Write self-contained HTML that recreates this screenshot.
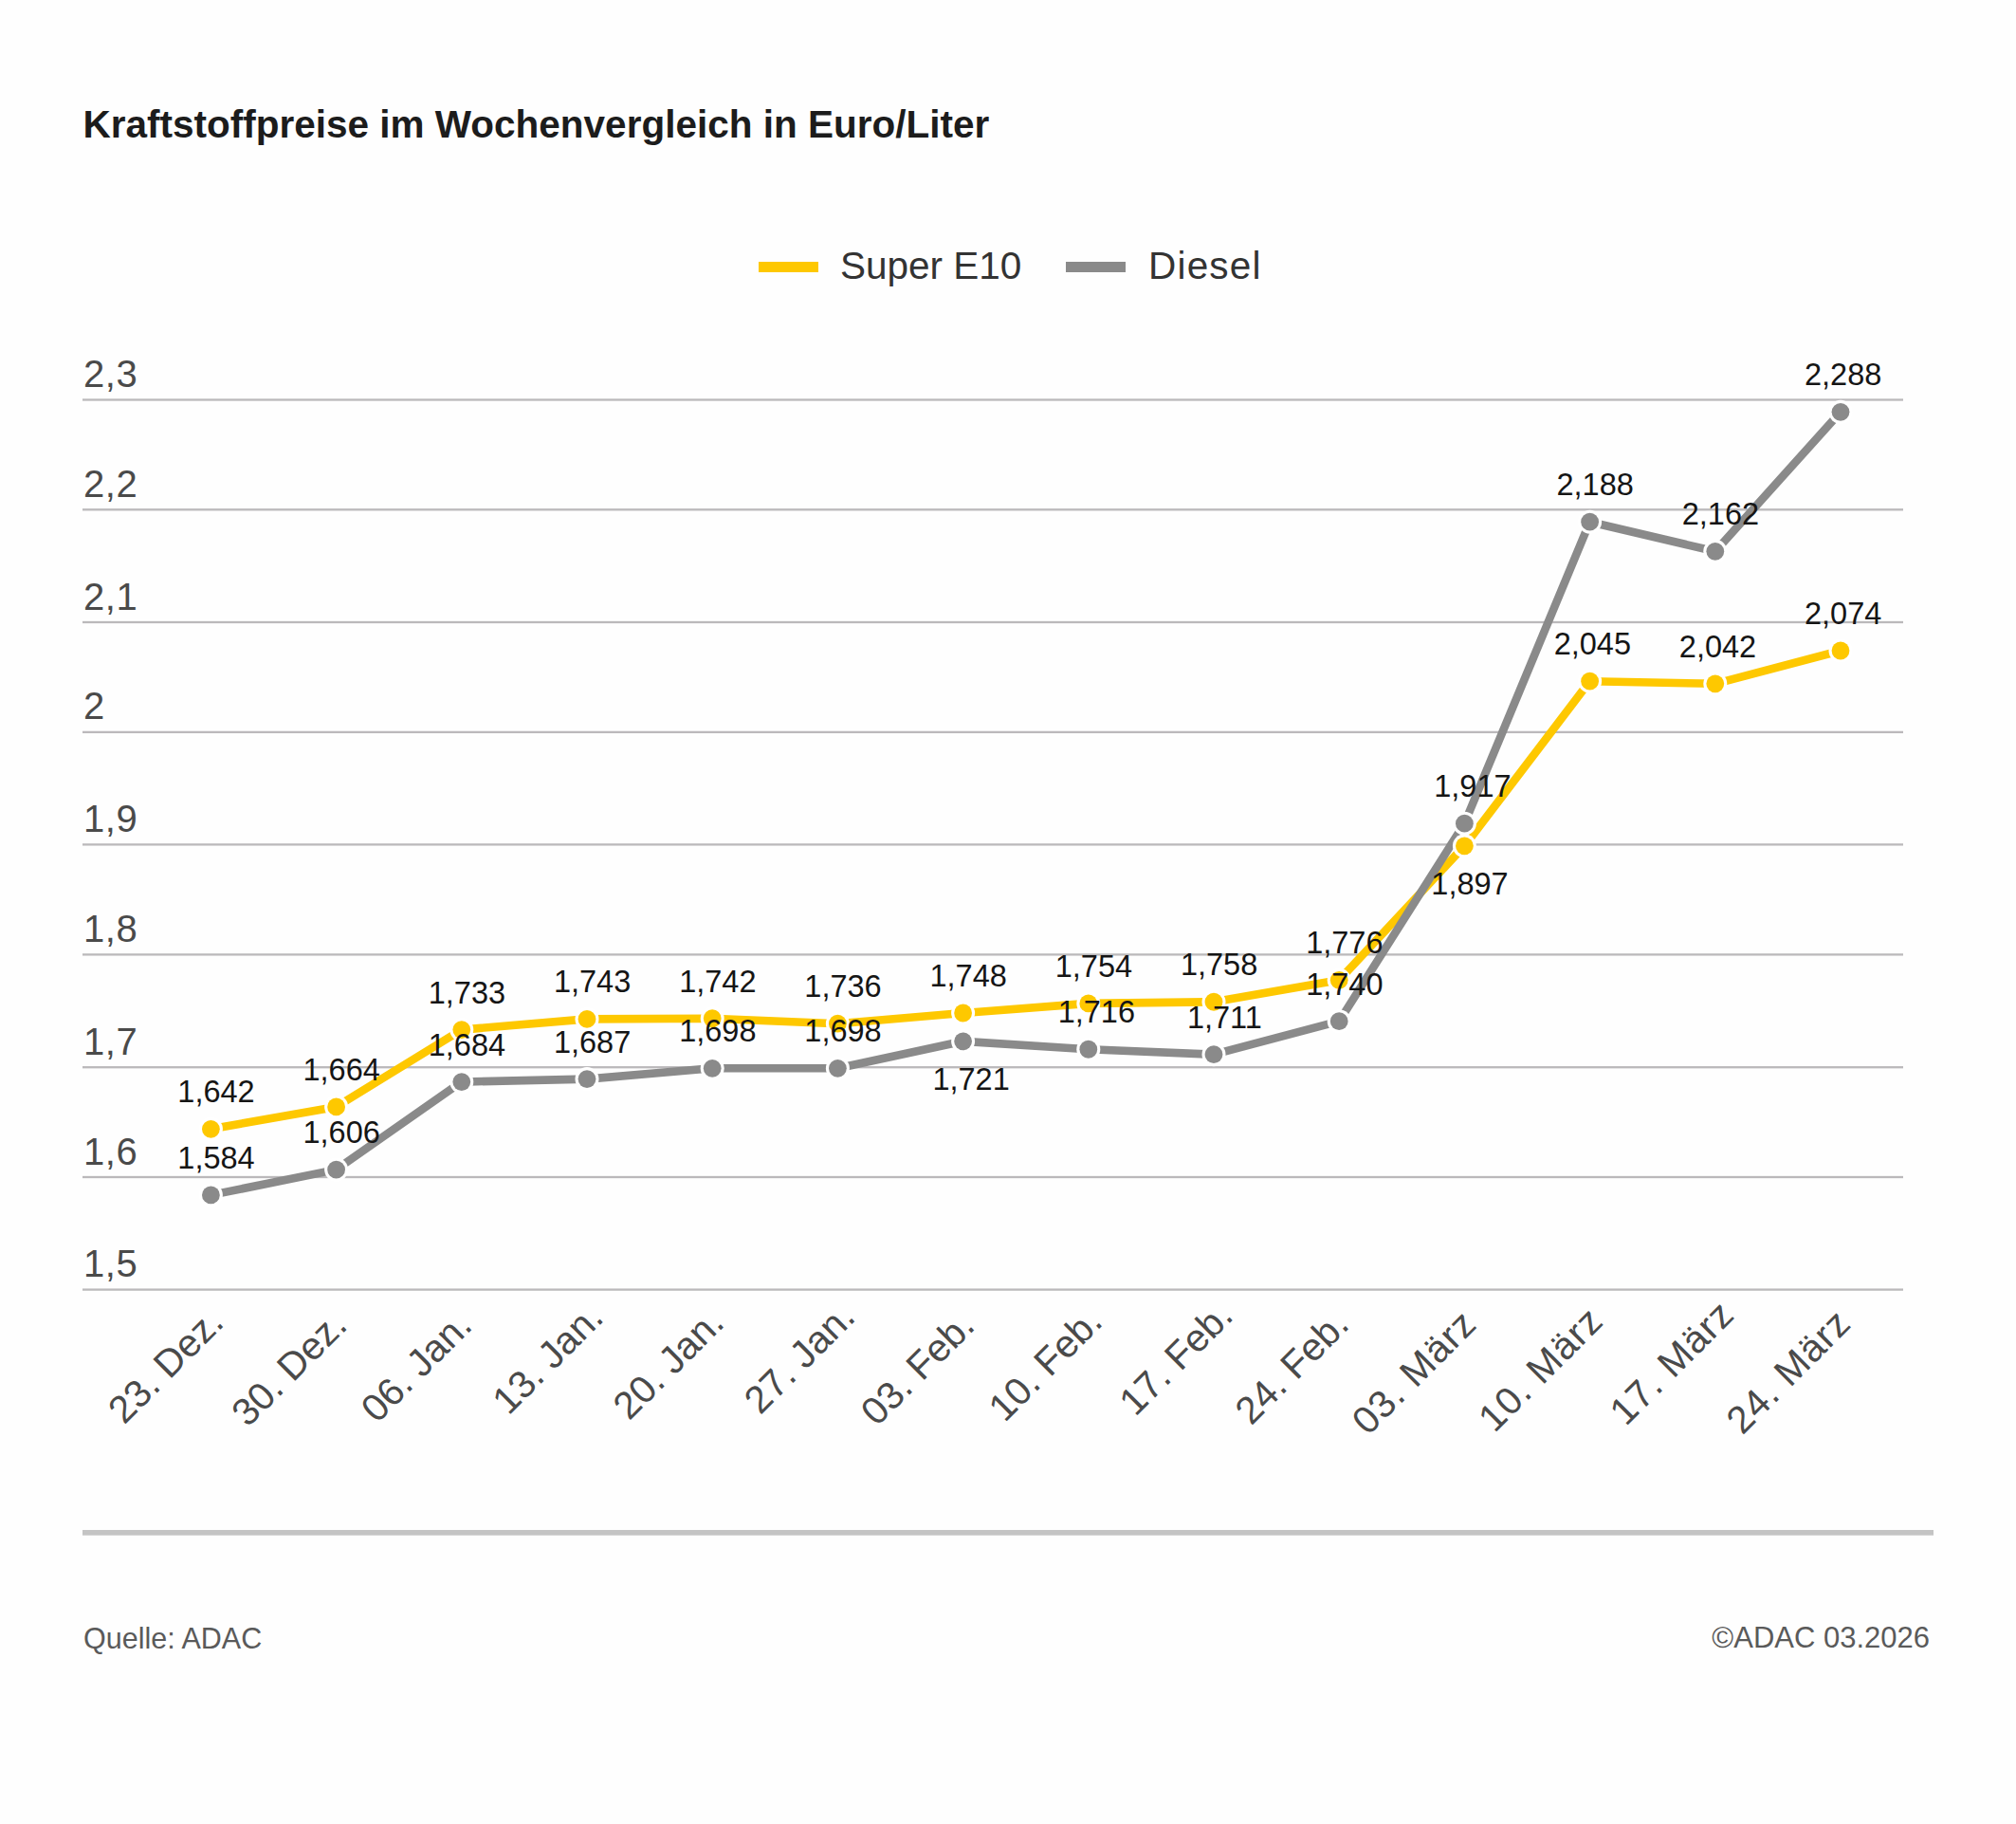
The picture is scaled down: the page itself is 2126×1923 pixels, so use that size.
<!DOCTYPE html>
<html><head><meta charset="utf-8"><style>html,body{margin:0;padding:0;background:#fefefe;}svg{display:block;}text{font-family:"Liberation Sans",sans-serif;}</style></head>
<body>
<svg width="2126" height="1923" viewBox="0 0 2126 1923">
<rect width="2126" height="1923" fill="#fefefe"/>
<text x="87.5" y="144.9" font-family="Liberation Sans" font-weight="bold" font-size="40.5" fill="#1c1c1c">Kraftstoffpreise im Wochenvergleich in Euro/Liter</text>
<rect x="800" y="276" width="63" height="11" fill="#fec800"/>
<text x="886" y="294.2" font-family="Liberation Sans" font-size="40.5" fill="#333333">Super E10</text>
<rect x="1124" y="276" width="63" height="11" fill="#8a8a8a"/>
<text x="1211" y="294.2" font-family="Liberation Sans" font-size="40.5" letter-spacing="1.2" fill="#333333">Diesel</text>
<rect x="87" y="420.35" width="1920" height="2.3" fill="#bbb9bb"/>
<text x="88.0" y="408.00" font-family="Liberation Sans" font-size="40" letter-spacing="0.6" fill="#4a4a4a">2,3</text>
<rect x="87" y="536.15" width="1920" height="2.3" fill="#bbb9bb"/>
<text x="88.0" y="523.80" font-family="Liberation Sans" font-size="40" letter-spacing="0.6" fill="#4a4a4a">2,2</text>
<rect x="87" y="654.85" width="1920" height="2.3" fill="#bbb9bb"/>
<text x="88.0" y="642.50" font-family="Liberation Sans" font-size="40" letter-spacing="0.6" fill="#4a4a4a">2,1</text>
<rect x="87" y="770.75" width="1920" height="2.3" fill="#bbb9bb"/>
<text x="88.0" y="758.40" font-family="Liberation Sans" font-size="40" letter-spacing="0.6" fill="#4a4a4a">2</text>
<rect x="87" y="889.25" width="1920" height="2.3" fill="#bbb9bb"/>
<text x="88.0" y="876.90" font-family="Liberation Sans" font-size="40" letter-spacing="0.6" fill="#4a4a4a">1,9</text>
<rect x="87" y="1005.25" width="1920" height="2.3" fill="#bbb9bb"/>
<text x="88.0" y="992.90" font-family="Liberation Sans" font-size="40" letter-spacing="0.6" fill="#4a4a4a">1,8</text>
<rect x="87" y="1124.05" width="1920" height="2.3" fill="#bbb9bb"/>
<text x="88.0" y="1111.70" font-family="Liberation Sans" font-size="40" letter-spacing="0.6" fill="#4a4a4a">1,7</text>
<rect x="87" y="1239.85" width="1920" height="2.3" fill="#bbb9bb"/>
<text x="88.0" y="1227.50" font-family="Liberation Sans" font-size="40" letter-spacing="0.6" fill="#4a4a4a">1,6</text>
<rect x="87" y="1358.45" width="1920" height="2.3" fill="#bbb9bb"/>
<text x="88.0" y="1346.10" font-family="Liberation Sans" font-size="40" letter-spacing="0.6" fill="#4a4a4a">1,5</text>
<polyline points="222.40,1190.30 354.60,1166.90 486.80,1085.60 619.00,1074.40 751.20,1073.75 883.40,1079.20 1015.60,1068.00 1147.80,1057.90 1280.00,1056.25 1412.20,1033.30 1544.40,891.80 1676.60,718.20 1808.80,720.80 1941.00,686.00" fill="none" stroke="#fec800" stroke-width="8.6" stroke-linejoin="round"/>
<polyline points="222.40,1259.90 354.60,1233.10 486.80,1140.60 619.00,1137.60 751.20,1126.30 883.40,1126.30 1015.60,1097.80 1147.80,1106.25 1280.00,1111.70 1412.20,1076.70 1544.40,868.20 1676.60,550.20 1808.80,581.30 1941.00,434.30" fill="none" stroke="#8a8a8a" stroke-width="8.6" stroke-linejoin="round"/>
<circle cx="222.40" cy="1259.90" r="12.5" fill="#ffffff"/>
<circle cx="222.40" cy="1259.90" r="9.4" fill="#8a8a8a"/>
<circle cx="354.60" cy="1233.10" r="12.5" fill="#ffffff"/>
<circle cx="354.60" cy="1233.10" r="9.4" fill="#8a8a8a"/>
<circle cx="486.80" cy="1140.60" r="12.5" fill="#ffffff"/>
<circle cx="486.80" cy="1140.60" r="9.4" fill="#8a8a8a"/>
<circle cx="619.00" cy="1137.60" r="12.5" fill="#ffffff"/>
<circle cx="619.00" cy="1137.60" r="9.4" fill="#8a8a8a"/>
<circle cx="751.20" cy="1126.30" r="12.5" fill="#ffffff"/>
<circle cx="751.20" cy="1126.30" r="9.4" fill="#8a8a8a"/>
<circle cx="883.40" cy="1126.30" r="12.5" fill="#ffffff"/>
<circle cx="883.40" cy="1126.30" r="9.4" fill="#8a8a8a"/>
<circle cx="1015.60" cy="1097.80" r="12.5" fill="#ffffff"/>
<circle cx="1015.60" cy="1097.80" r="9.4" fill="#8a8a8a"/>
<circle cx="1147.80" cy="1106.25" r="12.5" fill="#ffffff"/>
<circle cx="1147.80" cy="1106.25" r="9.4" fill="#8a8a8a"/>
<circle cx="1280.00" cy="1111.70" r="12.5" fill="#ffffff"/>
<circle cx="1280.00" cy="1111.70" r="9.4" fill="#8a8a8a"/>
<circle cx="1412.20" cy="1076.70" r="12.5" fill="#ffffff"/>
<circle cx="1412.20" cy="1076.70" r="9.4" fill="#8a8a8a"/>
<circle cx="1544.40" cy="868.20" r="12.5" fill="#ffffff"/>
<circle cx="1544.40" cy="868.20" r="9.4" fill="#8a8a8a"/>
<circle cx="1676.60" cy="550.20" r="12.5" fill="#ffffff"/>
<circle cx="1676.60" cy="550.20" r="9.4" fill="#8a8a8a"/>
<circle cx="1808.80" cy="581.30" r="12.5" fill="#ffffff"/>
<circle cx="1808.80" cy="581.30" r="9.4" fill="#8a8a8a"/>
<circle cx="1941.00" cy="434.30" r="12.5" fill="#ffffff"/>
<circle cx="1941.00" cy="434.30" r="9.4" fill="#8a8a8a"/>
<circle cx="222.40" cy="1190.30" r="12.5" fill="#ffffff"/>
<circle cx="222.40" cy="1190.30" r="9.4" fill="#fec800"/>
<circle cx="354.60" cy="1166.90" r="12.5" fill="#ffffff"/>
<circle cx="354.60" cy="1166.90" r="9.4" fill="#fec800"/>
<circle cx="486.80" cy="1085.60" r="12.5" fill="#ffffff"/>
<circle cx="486.80" cy="1085.60" r="9.4" fill="#fec800"/>
<circle cx="619.00" cy="1074.40" r="12.5" fill="#ffffff"/>
<circle cx="619.00" cy="1074.40" r="9.4" fill="#fec800"/>
<circle cx="751.20" cy="1073.75" r="12.5" fill="#ffffff"/>
<circle cx="751.20" cy="1073.75" r="9.4" fill="#fec800"/>
<circle cx="883.40" cy="1079.20" r="12.5" fill="#ffffff"/>
<circle cx="883.40" cy="1079.20" r="9.4" fill="#fec800"/>
<circle cx="1015.60" cy="1068.00" r="12.5" fill="#ffffff"/>
<circle cx="1015.60" cy="1068.00" r="9.4" fill="#fec800"/>
<circle cx="1147.80" cy="1057.90" r="12.5" fill="#ffffff"/>
<circle cx="1147.80" cy="1057.90" r="9.4" fill="#fec800"/>
<circle cx="1280.00" cy="1056.25" r="12.5" fill="#ffffff"/>
<circle cx="1280.00" cy="1056.25" r="9.4" fill="#fec800"/>
<circle cx="1412.20" cy="1033.30" r="12.5" fill="#ffffff"/>
<circle cx="1412.20" cy="1033.30" r="9.4" fill="#fec800"/>
<circle cx="1544.40" cy="891.80" r="12.5" fill="#ffffff"/>
<circle cx="1544.40" cy="891.80" r="9.4" fill="#fec800"/>
<circle cx="1676.60" cy="718.20" r="12.5" fill="#ffffff"/>
<circle cx="1676.60" cy="718.20" r="9.4" fill="#fec800"/>
<circle cx="1808.80" cy="720.80" r="12.5" fill="#ffffff"/>
<circle cx="1808.80" cy="720.80" r="9.4" fill="#fec800"/>
<circle cx="1941.00" cy="686.00" r="12.5" fill="#ffffff"/>
<circle cx="1941.00" cy="686.00" r="9.4" fill="#fec800"/>
<text x="228.00" y="1162.30" text-anchor="middle" font-family="Liberation Sans" font-size="32.5" fill="#151515">1,642</text>
<text x="360.20" y="1138.90" text-anchor="middle" font-family="Liberation Sans" font-size="32.5" fill="#151515">1,664</text>
<text x="492.40" y="1057.60" text-anchor="middle" font-family="Liberation Sans" font-size="32.5" fill="#151515">1,733</text>
<text x="624.60" y="1046.40" text-anchor="middle" font-family="Liberation Sans" font-size="32.5" fill="#151515">1,743</text>
<text x="756.80" y="1045.75" text-anchor="middle" font-family="Liberation Sans" font-size="32.5" fill="#151515">1,742</text>
<text x="889.00" y="1051.20" text-anchor="middle" font-family="Liberation Sans" font-size="32.5" fill="#151515">1,736</text>
<text x="1021.20" y="1040.00" text-anchor="middle" font-family="Liberation Sans" font-size="32.5" fill="#151515">1,748</text>
<text x="1153.40" y="1029.90" text-anchor="middle" font-family="Liberation Sans" font-size="32.5" fill="#151515">1,754</text>
<text x="1285.60" y="1028.25" text-anchor="middle" font-family="Liberation Sans" font-size="32.5" fill="#151515">1,758</text>
<text x="1417.80" y="1005.30" text-anchor="middle" font-family="Liberation Sans" font-size="32.5" fill="#151515">1,776</text>
<text x="1550.00" y="942.80" text-anchor="middle" font-family="Liberation Sans" font-size="32.5" fill="#151515">1,897</text>
<text x="1679.30" y="690.20" text-anchor="middle" font-family="Liberation Sans" font-size="32.5" fill="#151515">2,045</text>
<text x="1811.50" y="692.80" text-anchor="middle" font-family="Liberation Sans" font-size="32.5" fill="#151515">2,042</text>
<text x="1943.70" y="658.00" text-anchor="middle" font-family="Liberation Sans" font-size="32.5" fill="#151515">2,074</text>
<text x="228.00" y="1231.90" text-anchor="middle" font-family="Liberation Sans" font-size="32.5" fill="#151515">1,584</text>
<text x="360.20" y="1205.10" text-anchor="middle" font-family="Liberation Sans" font-size="32.5" fill="#151515">1,606</text>
<text x="492.40" y="1112.60" text-anchor="middle" font-family="Liberation Sans" font-size="32.5" fill="#151515">1,684</text>
<text x="624.60" y="1109.60" text-anchor="middle" font-family="Liberation Sans" font-size="32.5" fill="#151515">1,687</text>
<text x="756.80" y="1098.30" text-anchor="middle" font-family="Liberation Sans" font-size="32.5" fill="#151515">1,698</text>
<text x="889.00" y="1098.30" text-anchor="middle" font-family="Liberation Sans" font-size="32.5" fill="#151515">1,698</text>
<text x="1024.10" y="1148.80" text-anchor="middle" font-family="Liberation Sans" font-size="32.5" fill="#151515">1,721</text>
<text x="1156.30" y="1078.25" text-anchor="middle" font-family="Liberation Sans" font-size="32.5" fill="#151515">1,716</text>
<text x="1291.40" y="1083.70" text-anchor="middle" font-family="Liberation Sans" font-size="32.5" fill="#151515">1,711</text>
<text x="1417.80" y="1048.70" text-anchor="middle" font-family="Liberation Sans" font-size="32.5" fill="#151515">1,740</text>
<text x="1552.90" y="840.20" text-anchor="middle" font-family="Liberation Sans" font-size="32.5" fill="#151515">1,917</text>
<text x="1682.20" y="522.20" text-anchor="middle" font-family="Liberation Sans" font-size="32.5" fill="#151515">2,188</text>
<text x="1814.40" y="553.30" text-anchor="middle" font-family="Liberation Sans" font-size="32.5" fill="#151515">2,162</text>
<text x="1943.70" y="406.30" text-anchor="middle" font-family="Liberation Sans" font-size="32.5" fill="#151515">2,288</text>
<text x="0" y="0" transform="translate(237.70,1396.20) rotate(-45)" text-anchor="end" font-family="Liberation Sans" font-size="40.5" fill="#4a4a4a">23. Dez.</text>
<text x="0" y="0" transform="translate(367.90,1399.20) rotate(-45)" text-anchor="end" font-family="Liberation Sans" font-size="40.5" fill="#4a4a4a">30. Dez.</text>
<text x="0" y="0" transform="translate(499.60,1399.50) rotate(-45)" text-anchor="end" font-family="Liberation Sans" font-size="40.5" fill="#4a4a4a">06. Jan.</text>
<text x="0" y="0" transform="translate(638.10,1391.20) rotate(-45)" text-anchor="end" font-family="Liberation Sans" font-size="40.5" fill="#4a4a4a">13. Jan.</text>
<text x="0" y="0" transform="translate(765.40,1396.70) rotate(-45)" text-anchor="end" font-family="Liberation Sans" font-size="40.5" fill="#4a4a4a">20. Jan.</text>
<text x="0" y="0" transform="translate(903.70,1390.50) rotate(-45)" text-anchor="end" font-family="Liberation Sans" font-size="40.5" fill="#4a4a4a">27. Jan.</text>
<text x="0" y="0" transform="translate(1029.80,1399.80) rotate(-45)" text-anchor="end" font-family="Liberation Sans" font-size="40.5" fill="#4a4a4a">03. Feb.</text>
<text x="0" y="0" transform="translate(1164.50,1395.50) rotate(-45)" text-anchor="end" font-family="Liberation Sans" font-size="40.5" fill="#4a4a4a">10. Feb.</text>
<text x="0" y="0" transform="translate(1302.20,1389.30) rotate(-45)" text-anchor="end" font-family="Liberation Sans" font-size="40.5" fill="#4a4a4a">17. Feb.</text>
<text x="0" y="0" transform="translate(1424.50,1398.60) rotate(-45)" text-anchor="end" font-family="Liberation Sans" font-size="40.5" fill="#4a4a4a">24. Feb.</text>
<text x="0" y="0" transform="translate(1559.20,1398.00) rotate(-45)" text-anchor="end" font-family="Liberation Sans" font-size="40.5" letter-spacing="0.9" fill="#4a4a4a">03. März</text>
<text x="0" y="0" transform="translate(1692.60,1394.90) rotate(-45)" text-anchor="end" font-family="Liberation Sans" font-size="40.5" letter-spacing="0.9" fill="#4a4a4a">10. März</text>
<text x="0" y="0" transform="translate(1831.00,1388.10) rotate(-45)" text-anchor="end" font-family="Liberation Sans" font-size="40.5" letter-spacing="0.9" fill="#4a4a4a">17. März</text>
<text x="0" y="0" transform="translate(1954.00,1397.30) rotate(-45)" text-anchor="end" font-family="Liberation Sans" font-size="40.5" letter-spacing="0.9" fill="#4a4a4a">24. März</text>
<rect x="87" y="1613" width="1952" height="5.7" fill="#c4c4c4"/>
<text x="88" y="1737.7" font-family="Liberation Sans" font-size="30.5" fill="#5a5a5a">Quelle: ADAC</text>
<text x="2035" y="1737.2" text-anchor="end" font-family="Liberation Sans" font-size="31" fill="#5a5a5a">©ADAC 03.2026</text>
</svg>
</body></html>
